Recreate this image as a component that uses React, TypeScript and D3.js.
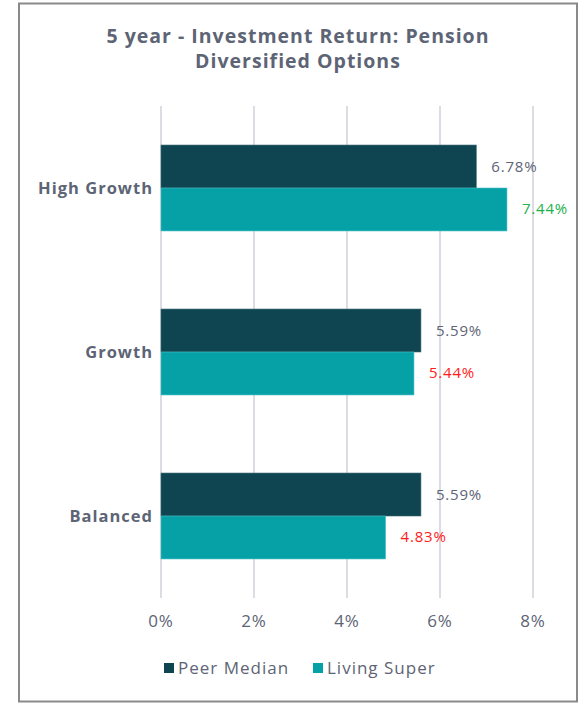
import React from "react";
import * as d3 from "d3";

const categories = ["High Growth", "Growth", "Balanced"];
const seriesNames = ["Peer Median", "Living Super"];
const peerMedian = [6.78, 5.59, 5.59];
const livingSuper = [7.44, 5.44, 4.83];
const xTicks = [0, 2, 4, 6, 8];
const titleLines = ["5 year - Investment Return: Pension", "Diversified Options"];

const W = 582;
const H = 703;
const colors = ["#0e4550", "#06a0a7"];
const textGray = "#5d6475";
const font = "'Open Sans', 'Noto Sans', sans-serif";

export default function App() {
  const x = d3.scaleLinear().domain([0, 8]).range([161, 533]);
  const y = d3.scaleBand().domain(categories).range([106, 598]).paddingInner(0.476).paddingOuter(0.238);
  const inner = d3.scaleBand().domain(seriesNames).range([0, y.bandwidth()]);
  const series = [peerMedian, livingSuper];

  const labelColor = (si: number, i: number) => {
    if (si === 0) return textGray;
    return livingSuper[i] >= peerMedian[i] ? "#22b14c" : "#ff1a1a";
  };

  return (
    <svg width={W} height={H} style={{ position: "absolute", left: 0, top: 0 }}>
      <rect x={0} y={0} width={W} height={H} fill="#fff" />
      <rect x={19} y={3.5} width={558} height={698} fill="#fff" stroke="#8a8a8a" strokeWidth={2} />
      {titleLines.map((t, i) => (
        <text key={i} x={298} y={43 + i * 25} textAnchor="middle" fontFamily={font} fontWeight={700}
          fontSize={19.5} letterSpacing={1} fill={textGray}>{t}</text>
      ))}
      {xTicks.map((t) => (
        <g key={t}>
          <line x1={x(t)} x2={x(t)} y1={106} y2={598} stroke="#dcdce2" strokeWidth={2} />
          <text x={x(t)} y={627} textAnchor="middle" fontFamily={font} fontSize={17} letterSpacing={0.8} fill={textGray}>{t}%</text>
        </g>
      ))}
      {categories.map((c, i) => (
        <g key={c}>
          <text x={153} y={(y(c) as number) + y.bandwidth() / 2 + 6} textAnchor="end" fontFamily={font}
            fontWeight={700} fontSize={16.5} letterSpacing={1} fill={textGray}>{c}</text>
          {series.map((s, si) => {
            const yy = (y(c) as number) + (inner(seriesNames[si]) as number);
            return (
              <g key={si}>
                <rect x={x(0)} y={yy} width={x(s[i]) - x(0)} height={inner.bandwidth()} fill={colors[si]}
                  stroke={si === 0 ? "#3a6a73" : "#4cc0c5"} strokeWidth={0.6} />
                <text x={x(s[i]) + 15} y={yy + inner.bandwidth() / 2 + 5} fontFamily={font} fontSize={15}
                  letterSpacing={0.8} fill={labelColor(si, i)}>{s[i].toFixed(2)}%</text>
              </g>
            );
          })}
        </g>
      ))}
      {seriesNames.map((n, i) => {
        const lx = [164, 313][i];
        return (
          <g key={n}>
            <rect x={lx} y={663} width={10} height={10} fill={colors[i]} />
            <text x={lx + 14} y={674} fontFamily={font} fontSize={17} fill={textGray} letterSpacing={1}>{n}</text>
          </g>
        );
      })}
    </svg>
  );
}
